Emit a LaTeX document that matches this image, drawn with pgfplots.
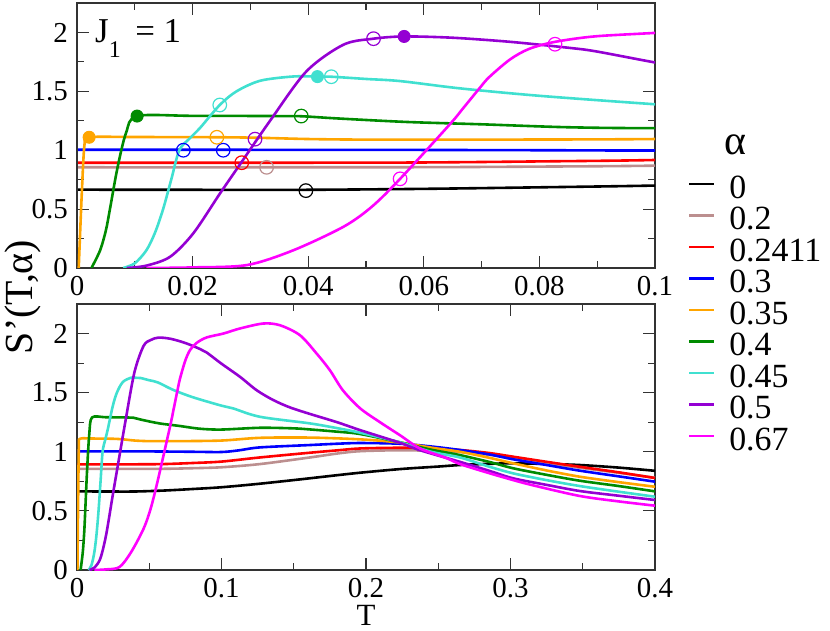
\documentclass[border=0pt]{standalone}
\usepackage{fontspec}
\setmainfont{Liberation Serif}
\usepackage{pgfplots}
\pgfplotsset{compat=1.18}
\usepackage{pgfplotstable}

\definecolor{gbrown}{HTML}{BC8F8F}
\definecolor{gorange}{HTML}{FFA500}
\definecolor{ggreen}{HTML}{008B00}
\definecolor{gturq}{HTML}{40E0D0}
\definecolor{gviolet}{HTML}{9400D3}
\definecolor{gmag}{HTML}{FF00FF}

\pgfplotstableread{
T S
0.0002 0.665
0.02 0.664
0.04 0.664
0.06 0.672
0.08 0.685
0.1 0.70
0.125 0.728
0.154 0.766
0.175 0.795
0.196 0.823
0.225 0.855
0.25 0.875
0.265 0.888
0.285 0.898
0.302 0.902
0.325 0.897
0.348 0.888
0.375 0.866
0.4 0.839
}\tA

\pgfplotstableread{
T S
0.0002 0.855
0.03 0.855
0.06 0.856
0.08 0.861
0.1 0.869
0.1266 0.896
0.1612 0.952
0.18 0.985
0.196 1.005
0.2235 1.013
0.245 1.008
0.265 0.998
0.285 0.975
0.302 0.948
0.325 0.905
0.348 0.865
0.375 0.822
0.4 0.78
}\tB

\pgfplotstableread{
T S
0.0002 0.894
0.04 0.894
0.06 0.896
0.08 0.905
0.1 0.917
0.1266 0.952
0.1612 0.992
0.18 1.012
0.196 1.028
0.2235 1.034
0.245 1.028
0.265 1.015
0.285 0.99
0.302 0.958
0.325 0.915
0.348 0.873
0.375 0.826
0.4 0.778
}\tC

\pgfplotstableread{
T S
0.0002 1.004
0.05 1.003
0.08 1.0
0.1 0.998
0.112 1.012
0.1266 1.037
0.1612 1.057
0.18 1.068
0.196 1.074
0.2235 1.068
0.245 1.045
0.265 1.015
0.285 0.978
0.302 0.936
0.325 0.888
0.348 0.84
0.375 0.792
0.4 0.747
}\tD

\pgfplotstableread{
T S
0.0003 0.0
0.0008 0.6
0.0013 1.05
0.0021 1.11
0.01 1.112
0.025 1.11
0.032 1.105
0.04 1.095
0.05 1.09
0.07 1.09
0.1 1.095
0.1266 1.118
0.1612 1.12
0.196 1.105
0.2235 1.078
0.245 1.035
0.265 1.0
0.285 0.95
0.302 0.902
0.325 0.842
0.348 0.789
0.375 0.743
0.4 0.704
}\tE

\pgfplotstableread{
T S
0.0025 0.0
0.004 0.15
0.005 0.32
0.0057 0.5
0.007 0.85
0.0085 1.15
0.0104 1.29
0.02 1.292
0.035 1.29
0.039 1.288
0.045 1.27
0.057 1.24
0.07 1.22
0.085 1.195
0.1 1.188
0.1266 1.203
0.15 1.198
0.1612 1.189
0.18 1.17
0.196 1.15
0.2235 1.08
0.245 1.018
0.265 0.972
0.285 0.915
0.302 0.86
0.325 0.805
0.348 0.755
0.375 0.71
0.4 0.665
}\tF

\pgfplotstableread{
T S
0.008 0.0
0.01 0.04
0.012 0.15
0.0135 0.3
0.0149 0.5
0.0163 0.75
0.0177 1.0
0.0195 1.1
0.0213 1.19
0.0247 1.384
0.0276 1.50
0.0317 1.59
0.0374 1.626
0.0416 1.625
0.044 1.624
0.05 1.605
0.0559 1.587
0.0663 1.525
0.08 1.462
0.1 1.39
0.108 1.367
0.1266 1.296
0.1612 1.24
0.18 1.2
0.196 1.161
0.2235 1.08
0.245 1.0
0.265 0.952
0.285 0.875
0.302 0.817
0.325 0.76
0.348 0.71
0.375 0.662
0.4 0.62
}\tG

\pgfplotstableread{
T S
0.0086 0.0
0.012 0.02
0.0161 0.095
0.0201 0.293
0.0247 0.63
0.0282 0.88
0.0334 1.25
0.0397 1.67
0.0461 1.896
0.0513 1.947
0.0566 1.966
0.065 1.955
0.075 1.92
0.085 1.87
0.0897 1.84
0.1 1.745
0.1128 1.634
0.1244 1.52
0.1359 1.437
0.1474 1.375
0.1612 1.32
0.18 1.25
0.196 1.183
0.2235 1.076
0.2374 1.013
0.265 0.915
0.285 0.84
0.302 0.775
0.325 0.72
0.348 0.668
0.375 0.628
0.4 0.592
}\tH

\pgfplotstableread{
T S
0.012 0.0
0.02 0.005
0.0294 0.025
0.0374 0.15
0.0461 0.35
0.051 0.52
0.0559 0.757
0.0645 1.22
0.0667 1.35
0.0697 1.53
0.0713 1.62
0.0749 1.77
0.0782 1.86
0.0827 1.92
0.0897 1.967
0.1013 2.0
0.1128 2.043
0.129 2.085
0.1405 2.07
0.1543 1.986
0.1659 1.83
0.175 1.69
0.184 1.52
0.196 1.367
0.2097 1.25
0.2235 1.14
0.2374 1.028
0.255 0.95
0.265 0.896
0.285 0.82
0.302 0.76
0.316 0.715
0.348 0.626
0.375 0.58
0.4 0.544
}\tI

\pgfplotsset{
  common/.style={
    scale only axis,
    width=578bp,
    axis line style={line width=1.1bp, black!80},
    every tick/.style={line width=1.1bp, black!80},
    tick align=inside,
    major tick length=12bp, minor tick length=7bp,
    minor x tick num=1, minor y tick num=1,
    ymin=0, ymax=2.25,
    ytick={0,0.5,1,1.5,2},
    yticklabels={0,0.5,1,1.5,2},
    scaled ticks=false,
    /pgf/number format/assume math mode=true,
    tick label style={font=\fontsize{29}{29}\selectfont},
    xticklabel style={inner sep=0pt, yshift=-8bp},
    yticklabel style={inner sep=0pt, xshift=-9bp},
    every axis plot/.append style={line width=2.6bp},
  },
  cur/.style={smooth, tension=0.5, no markers},
  oc/.style={only marks, mark=o, mark size=6.8bp, mark options={line width=1.2bp}, forget plot},
  fc/.style={only marks, mark=*, mark size=6bp, mark options={line width=1bp}, forget plot},
}

\begin{document}
\begin{tikzpicture}
\path[use as bounding box] (0,0) rectangle (830bp,631bp);

% top panel
\begin{axis}[common,
  at={(77bp,363bp)}, anchor=south west,
  height=265bp,
  xmin=0, xmax=0.1,
  xtick={0,0.02,0.04,0.06,0.08,0.1},
  xticklabels={0,0.02,0.04,0.06,0.08,0.1},
  legend style={at={(1.0571,0.3698)}, anchor=north west, draw=none, fill=none,
    inner sep=0pt, outer sep=0pt, /tikz/column sep=13.7bp, /tikz/row sep=3.5bp,
    font=\fontsize{34}{34}\selectfont,
    nodes={inner sep=0pt, text height=28bp, text depth=0bp}},
  legend cell align=left,
  legend image code/.code={\draw[#1, line width=2.6bp] (0bp,0bp) -- (25bp,0bp);},
]
\addplot[cur, black] table {\tA};
\addplot[cur, gbrown] table {\tB};
\addplot[cur, red] table {\tC};
\addplot[cur, blue] table {\tD};
\addplot[cur, gorange] table {\tE};
\addplot[cur, ggreen] table {\tF};
\addplot[cur, gturq] table {\tG};
\addplot[cur, gviolet] table {\tH};
\addplot[cur, gmag] table {\tI};
\legend{0,0.2,0.2411,0.3,0.35,0.4,0.45,0.5,0.67}

\addplot[oc, black] coordinates {(0.0396,0.657)};
\addplot[oc, gbrown] coordinates {(0.0328,0.855)};
\addplot[oc, red] coordinates {(0.0285,0.894)};
\addplot[oc, blue] coordinates {(0.0184,1.0) (0.0253,1.0)};
\addplot[oc, gorange] coordinates {(0.0242,1.11)};
\addplot[oc, ggreen] coordinates {(0.0388,1.29)};
\addplot[oc, gturq] coordinates {(0.0247,1.384) (0.044,1.624)};
\addplot[oc, gviolet] coordinates {(0.0308,1.094) (0.0513,1.947)};
\addplot[oc, gmag] coordinates {(0.0559,0.757) (0.0827,1.90)};
\addplot[fc, gorange] coordinates {(0.0021,1.11)};
\addplot[fc, ggreen] coordinates {(0.0104,1.29)};
\addplot[fc, gturq] coordinates {(0.0416,1.625)};
\addplot[fc, gviolet] coordinates {(0.0566,1.966)};
\end{axis}

% bottom panel
\begin{axis}[common,
  at={(77bp,61bp)}, anchor=south west,
  height=266bp,
  xmin=0, xmax=0.4,
  xtick={0,0.1,0.2,0.3,0.4},
  xticklabels={0,0.1,0.2,0.3,0.4},
]
\addplot[cur, black] table {\tA};
\addplot[cur, gbrown] table {\tB};
\addplot[cur, red] table {\tC};
\addplot[cur, blue] table {\tD};
\addplot[cur, gorange] table {\tE};
\addplot[cur, ggreen] table {\tF};
\addplot[cur, gturq] table {\tG};
\addplot[cur, gviolet] table {\tH};
\addplot[cur, gmag] table {\tI};
\end{axis}

\node[anchor=base west, font=\fontsize{35}{35}\selectfont, inner sep=0pt] at (95bp,588bp)
  {J\raisebox{-0.42em}{\fontsize{24}{24}\selectfont 1}\,\ = 1};
\node[anchor=base, font=\fontsize{31}{31}\selectfont, inner sep=0pt] at (366bp,6bp) {T};
\node[anchor=center, rotate=90, font=\fontsize{40}{40}\selectfont, inner sep=0pt] at (23bp,334bp) {S’(T,α)};
\node[anchor=base, font=\fontsize{42}{42}\selectfont, inner sep=0pt] at (735bp,476bp) {α};
\end{tikzpicture}
\end{document}
